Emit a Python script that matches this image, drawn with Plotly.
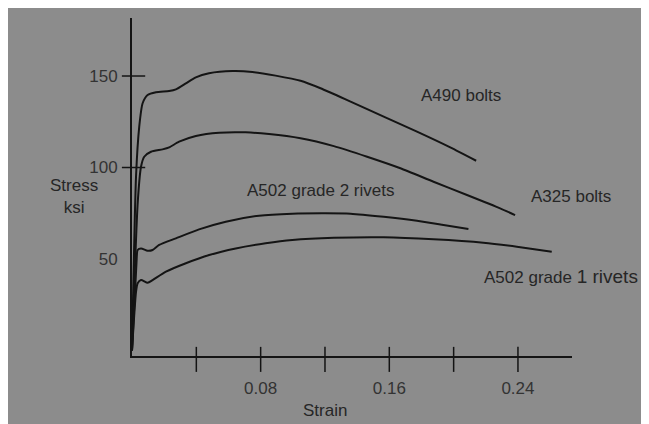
import plotly.graph_objects as go

# ---- data ----
a490_x = [0, 0.0025, 0.0045, 0.0066, 0.0097, 0.0149, 0.0231, 0.0273, 0.0335, 0.0397, 0.0479,
          0.0625, 0.0749, 0.0893, 0.1048, 0.1172, 0.1359, 0.1565, 0.1772, 0.1979, 0.2140]
a490_y = [0, 95, 122.3, 135.1, 139.6, 141.1, 141.8, 142.7, 146.0, 149.3, 151.5,
          152.7, 152.2, 150.2, 147.4, 143.3, 136.0, 127.8, 119.6, 111.0, 103.7]

a325_x = [0, 0.0035, 0.0056, 0.0076, 0.0118, 0.0190, 0.0231, 0.0293, 0.0397, 0.0542, 0.0707,
          0.0852, 0.1048, 0.1255, 0.1462, 0.1669, 0.1875, 0.2083, 0.2289, 0.2382]
a325_y = [0, 80, 100.4, 105.9, 108.6, 109.9, 111.0, 114.1, 117.2, 119.0, 119.2,
          118.3, 116.0, 111.7, 105.9, 99.6, 92.2, 85.0, 77.7, 74.0]

g2_x = [0, 0.0028, 0.0035, 0.0056, 0.0097, 0.0128, 0.0169, 0.0273, 0.0417, 0.0583, 0.0790,
        0.0997, 0.1203, 0.1359, 0.1565, 0.1772, 0.1937, 0.2092]
g2_y = [0, 48, 54.9, 55.8, 54.5, 54.9, 57.7, 61.3, 66.2, 70.4, 73.7,
        74.8, 75.0, 74.8, 73.1, 70.9, 68.6, 66.4]

g1_x = [0, 0.0025, 0.0035, 0.0056, 0.0097, 0.0128, 0.0211, 0.0335, 0.0480, 0.0645, 0.0831,
        0.0997, 0.1255, 0.1565, 0.1875, 0.2185, 0.2393, 0.2610]
g1_y = [0, 32, 36.7, 38.5, 37.0, 38.5, 43.1, 47.7, 52.2, 55.8, 58.6,
        60.4, 61.6, 61.9, 60.8, 58.9, 56.7, 54.0]

series = [
    ("A490 bolts", a490_x, a490_y),
    ("A325 bolts", a325_x, a325_y),
    ("A502 grade 2 rivets", g2_x, g2_y),
    ("A502 grade 1 rivets", g1_x, g1_y),
]

x_tick_marks = [0.04, 0.08, 0.12, 0.16, 0.20, 0.24]
x_tick_labels = [0.08, 0.16, 0.24]
y_tick_marks = [100, 150]
y_tick_labels = [50, 100, 150]

# label anchors (data coordinates)
labels = [
    ("A490 bolts", 0.2047, 139.6),
    ("A325 bolts", 0.2730, 83.9),
    ("A502 grade 2 rivets", 0.1172, 87.2),
    ("A502 grade <span style='font-size:19px'>1 rivets</span>", 0.2667, 40.2),
]

BG = "#8c8c8c"
INK = "#141414"
TXT = "#262626"
FONT = "Liberation Sans, Arial, sans-serif"

fig = go.Figure()
for name, xs, ys in series:
    fig.add_trace(go.Scatter(x=xs, y=ys, mode="lines", name=name,
                             line=dict(color=INK, width=2, shape="spline", smoothing=0.6),
                             hoverinfo="skip"))

shapes = []
for t in x_tick_marks:
    shapes.append(dict(type="line", xref="x", yref="paper", x0=t, x1=t, y0=0.027, y1=-0.047,
                       line=dict(color=INK, width=1.5)))
for t in y_tick_marks:
    shapes.append(dict(type="line", xref="paper", yref="y", x0=-0.023, x1=0.03, y0=t, y1=t,
                       line=dict(color=INK, width=1.5)))

annotations = []
for txt, x, y in labels:
    annotations.append(dict(text=txt, x=x, y=y, xref="x", yref="y", showarrow=False,
                            font=dict(size=17, color=TXT, family=FONT)))
annotations.append(dict(text="Stress<br>ksi", x=-0.191, y=0.473, xref="paper", yref="paper",
                        showarrow=False, font=dict(size=17, color=TXT, family=FONT)))
annotations.append(dict(text="Strain", x=0.4386, y=-0.195, xref="paper", yref="paper",
                        showarrow=False, font=dict(size=17, color=TXT, family=FONT)))

fig.update_layout(
    width=641, height=416,
    margin=dict(l=124, r=77, t=10, b=68),
    paper_bgcolor=BG, plot_bgcolor=BG,
    showlegend=False,
    shapes=shapes, annotations=annotations,
    font=dict(family=FONT, color=TXT, size=16),
    xaxis=dict(range=[0, 0.2736], showgrid=False, zeroline=False,
               showline=True, linecolor=INK, linewidth=2,
               tickvals=x_tick_labels, ticktext=[f"{v:.2f}" for v in x_tick_labels],
               ticks="", ticklabelstandoff=16, tickfont=dict(size=17, color="#333")),
    yaxis=dict(range=[-3, 181.7], showgrid=False, zeroline=False,
               showline=True, linecolor=INK, linewidth=2,
               tickvals=y_tick_labels, ticktext=[str(v) for v in y_tick_labels],
               ticks="", ticklabelstandoff=9, tickfont=dict(size=17, color="#333")),
)

fig.write_html("out.html")
